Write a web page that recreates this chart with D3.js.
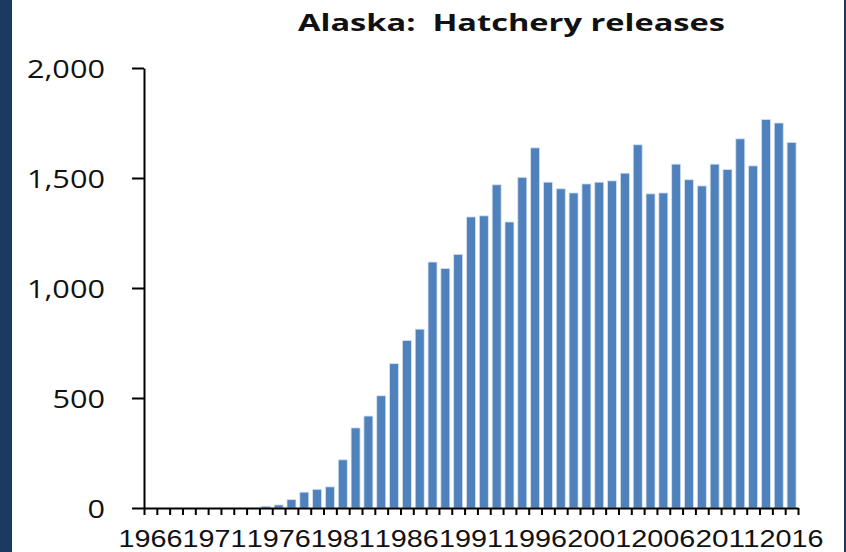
<!DOCTYPE html>
<html>
<head>
<meta charset="utf-8">
<script src="https://cdn.jsdelivr.net/npm/d3@7"></script>
<style>
  html, body { margin: 0; padding: 0; background: #ffffff; }
  svg { display: block; }
</style>
</head>
<body>
<svg id="chart" width="846" height="552"></svg>
<script>
// Hatchery releases in Alaska (millions of fish), 1966–2016
const years = d3.range(1966, 2017);
const releases = [
  0, 0, 0, 0, 0, 0, 0, 0, 0, 8,
  14, 38, 72, 85, 96, 219, 364, 418, 510, 656,
  761, 813, 1118, 1089, 1153, 1323, 1328, 1469, 1300, 1503,
  1637, 1481, 1451, 1432, 1473, 1481, 1487, 1522, 1651, 1428,
  1432, 1563, 1492, 1464, 1563, 1539, 1678, 1555, 1766, 1750,
  1662
];
const yTicks = [0, 500, 1000, 1500, 2000];
const xLabelYears = years.filter((y, i) => i % 5 === 0);
const title = "Alaska:  Hatchery releases";

const svg = d3.select("#chart");
const W = 846, H = 552;
const plotLeft = 144, plotRight = 798, plotTop = 68, plotBottom = 508;

svg.append("rect").attr("width", W).attr("height", H).attr("fill", "#ffffff");
// dark frame edges
svg.append("rect").attr("x", 0).attr("y", 0).attr("width", 12).attr("height", H).attr("fill", "#1b3a5f");
svg.append("rect").attr("x", 844).attr("y", 0).attr("width", 2).attr("height", H).attr("fill", "#1b3a5f");

const x = d3.scaleBand()
  .domain(years)
  .range([plotLeft, plotRight])
  .paddingInner(0.3)
  .paddingOuter(0.15);

const y = d3.scaleLinear().domain([0, 2000]).range([plotBottom, plotTop]);

// bars
svg.append("g")
  .selectAll("rect")
  .data(years.map((yr, i) => ({ yr, v: releases[i] })).filter(d => d.v > 0))
  .join("rect")
  .attr("x", d => x(d.yr))
  .attr("width", x.bandwidth())
  .attr("y", d => y(d.v))
  .attr("height", d => y(0) - y(d.v))
  .attr("fill", "#4f81bd")
  .attr("stroke", "#d6e2f0")
  .attr("stroke-width", 0.8);

// y axis
const yAxis = svg.append("g")
  .attr("transform", `translate(${plotLeft},0)`)
  .call(d3.axisLeft(y)
    .tickValues(yTicks)
    .tickSize(12)
    .tickSizeOuter(0)
    .tickPadding(27)
    .tickFormat(d3.format(",")));
yAxis.selectAll("path, line").attr("stroke", "#000").attr("stroke-width", 2);
yAxis.selectAll("text")
  .attr("font-family", "'Open Sans', sans-serif")
  .attr("font-size", 26)
  .attr("fill", "#111")
  .attr("dy", "0.35em")
  .each(function () {
    // widen the value labels a little
    const w = this.getComputedTextLength();
    d3.select(this).attr("textLength", w * 1.18).attr("lengthAdjust", "spacingAndGlyphs");
  });

// x axis: tick marks on category boundaries
const xb = d3.scaleLinear().domain([0, years.length]).range([plotLeft, plotRight]);
const xAxis = svg.append("g")
  .attr("transform", `translate(0,${plotBottom})`)
  .call(d3.axisBottom(xb)
    .tickValues(d3.range(0, years.length + 1))
    .tickSize(7)
    .tickSizeOuter(0)
    .tickFormat(""));
xAxis.selectAll("path, line").attr("stroke", "#000").attr("stroke-width", 2);

// category labels every five years
svg.append("g")
  .selectAll("text")
  .data(xLabelYears)
  .join("text")
  .attr("x", d => x(d) + x.bandwidth() / 2)
  .attr("y", 547)
  .attr("text-anchor", "middle")
  .attr("font-family", "'Liberation Sans', Arial, sans-serif")
  .attr("font-size", 23)
  .attr("fill", "#111")
  .attr("textLength", 64)
  .attr("lengthAdjust", "spacingAndGlyphs")
  .text(d => d);

// title
svg.append("text")
  .attr("x", 298)
  .attr("y", 31)
  .attr("font-family", "'Open Sans', sans-serif")
  .attr("font-weight", "bold")
  .attr("font-size", 23)
  .attr("fill", "#111")
  .style("white-space", "pre")
  .attr("textLength", 427)
  .attr("lengthAdjust", "spacingAndGlyphs")
  .text(title);
</script>
</body>
</html>
